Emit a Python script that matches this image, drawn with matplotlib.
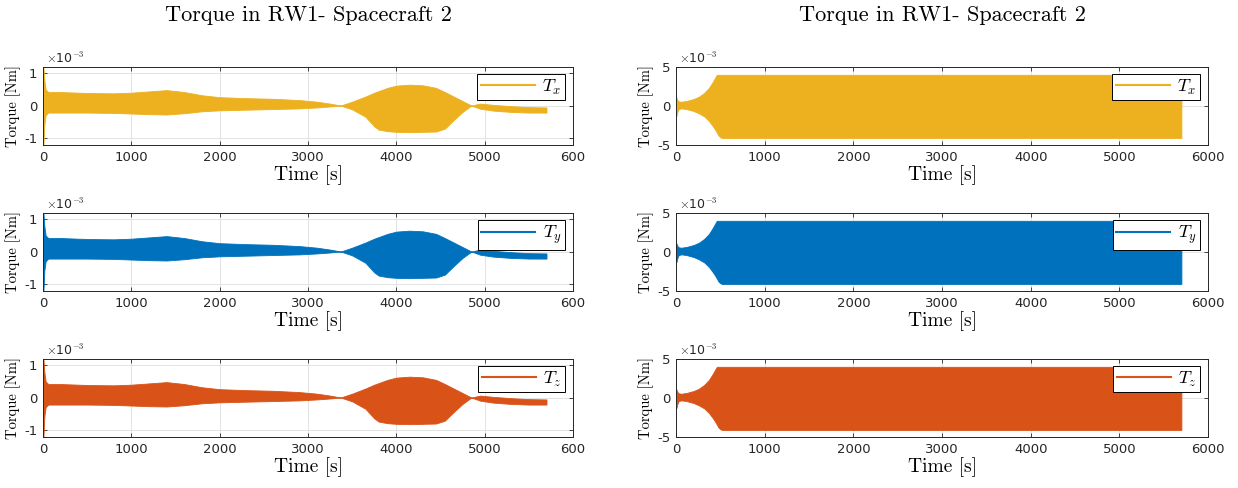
import numpy as np
import matplotlib
matplotlib.use('Agg')
import matplotlib.pyplot as plt
from matplotlib.lines import Line2D

plt.rcParams['mathtext.fontset'] = 'cm'
plt.rcParams['axes.unicode_minus'] = False

# envelope of the wheel torque, units of 1e-3 Nm (Tx, Ty, Tz look the same)
t_left = [0, 5, 15, 30, 60, 200, 500, 800, 1000, 1200, 1400, 1600, 1800, 2000,
          2300, 2600, 2900, 3100, 3250, 3370, 3500, 3650, 3750, 3800, 3900, 4000,
          4150, 4300, 4450, 4550, 4650, 4750, 4850, 4950, 5100, 5300, 5500, 5700]
left_upper = [1.2, 1.2, 0.8, 0.5, 0.42, 0.42, 0.39, 0.38, 0.40, 0.44, 0.48, 0.42,
              0.32, 0.26, 0.23, 0.21, 0.17, 0.12, 0.06, 0.0, 0.12, 0.28, 0.40,
              0.45, 0.55, 0.62, 0.65, 0.63, 0.55, 0.42, 0.28, 0.14, 0.0, 0.06,
              0.02, -0.02, -0.05, -0.06]
left_lower = [-1.23, -1.23, -0.6, -0.3, -0.22, -0.22, -0.22, -0.23, -0.25, -0.27,
              -0.28, -0.24, -0.18, -0.15, -0.13, -0.11, -0.09, -0.06, -0.03, 0.0,
              -0.12, -0.35, -0.65, -0.75, -0.80, -0.82, -0.83, -0.82, -0.81,
              -0.72, -0.45, -0.2, 0.0, -0.1, -0.16, -0.2, -0.22, -0.22]

t_right = [0, 5, 15, 30, 60, 120, 200, 260, 320, 370, 410, 440, 460, 480, 500,
           520, 1000, 2000, 3000, 4000, 5000, 5700]
right_upper = [1.1, 1.1, 0.8, 0.6, 0.55, 0.65, 0.9, 1.2, 1.7, 2.3, 3.0, 3.6, 4.0,
               4.0, 4.0, 4.0, 4.0, 4.0, 4.0, 4.0, 4.0, 4.0]
right_lower = [-1.3, -1.3, -0.8, -0.4, -0.3, -0.4, -0.65, -0.95, -1.35, -1.9,
               -2.5, -3.0, -3.4, -3.8, -4.0, -4.1, -4.1, -4.1, -4.1, -4.1, -4.1, -4.1]

labels = [r'$T_x$', r'$T_y$', r'$T_z$']
colors = ['#EDB120', '#0072BD', '#D95319']
xticks = [0, 1000, 2000, 3000, 4000, 5000, 6000]
left_xticklabels = ['0', '1000', '2000', '3000', '4000', '5000', '600']
right_xticklabels = ['0', '1000', '2000', '3000', '4000', '5000', '6000']
title = 'Torque in RW1- Spacecraft 2'

W, H = 1238, 488
fig = plt.figure(figsize=(W / 100, H / 100), dpi=100)

serif = 'cmr10'
tickfont = 'DejaVu Sans'

cols = [(43, 573, t_left, left_upper, left_lower, (-1.23, 1.2), [-1, 0, 1], left_xticklabels),
        (676, 1208, t_right, right_upper, right_lower, (-5, 5), [-5, 0, 5], right_xticklabels)]
tops = [67, 213, 359]
ah = 78

for ci, (x0, x1, t, up, lo, ylim, yticks, xtl) in enumerate(cols):
    for ri, top in enumerate(tops):
        ax = fig.add_axes([x0 / W, 1 - (top + ah) / H, (x1 - x0) / W, ah / H])
        ax.fill_between(t, lo, up, color=colors[ri], linewidth=0.6,
                        edgecolor=colors[ri])
        ax.set_xlim(0, 6000)
        ax.set_ylim(*ylim)
        ax.set_xticks(xticks)
        ax.set_xticklabels(xtl)
        ax.set_yticks(yticks)
        ax.set_yticklabels([str(v) for v in yticks])
        ax.grid(True, color='#e3e3e3', linewidth=0.7)
        ax.set_axisbelow(True)
        ax.tick_params(direction='in', top=True, right=True, length=3,
                       width=0.6, labelsize=9.5, colors='#262626', pad=4)
        for lab in ax.get_xticklabels() + ax.get_yticklabels():
            lab.set_fontfamily(tickfont)
        for sp in ax.spines.values():
            sp.set_color('#262626')
            sp.set_linewidth(0.7)
        ax.set_xlabel('Time [s]', fontfamily=serif, fontsize=14, labelpad=1)
        ax.set_ylabel('Torque [Nm]', fontfamily=serif, fontsize=10.5, labelpad=2)
        ax.text(0.005, 1.01, r'$\times$10$^{\mathsf{-3}}$', transform=ax.transAxes,
                ha='left', va='bottom', fontsize=9, color='#262626',
                fontfamily=tickfont)
        h = Line2D([], [], color=colors[ri], linewidth=1.5)
        leg = ax.legend([h], [labels[ri]], loc='upper right',
                        bbox_to_anchor=(0.985, 0.91), fontsize=13,
                        handlelength=3.0, handletextpad=0.4, borderpad=0.2,
                        fancybox=False, framealpha=1, borderaxespad=0.0)
        leg.get_frame().set_edgecolor('black')
        leg.get_frame().set_linewidth(0.7)
        if ri == 0:
            ax.set_title(title, fontfamily=serif, fontsize=16, pad=33)

fig.savefig('out.png', dpi=100)
